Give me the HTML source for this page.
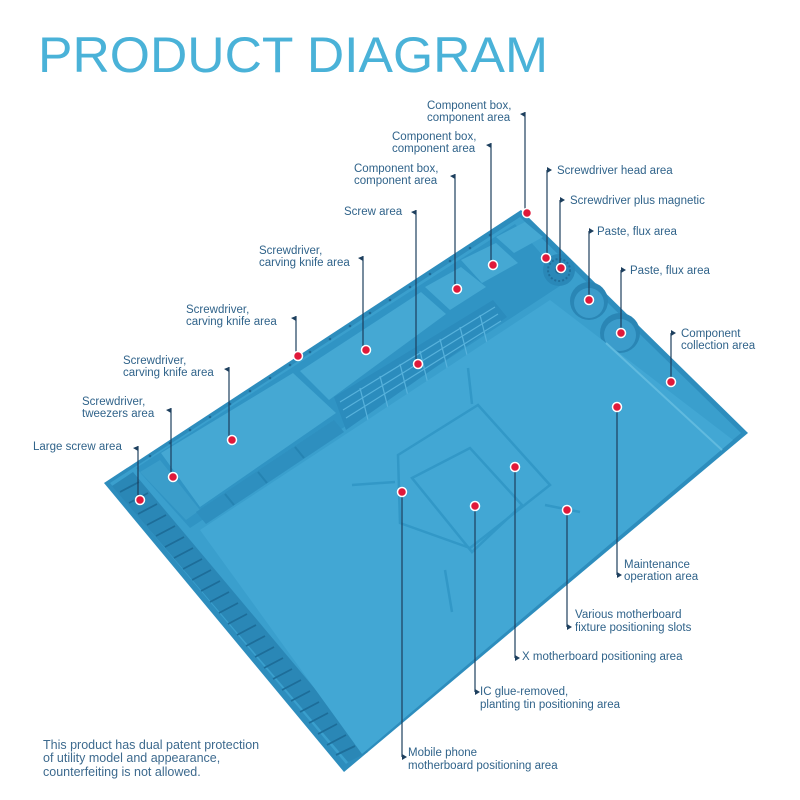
<!DOCTYPE html>
<html><head><meta charset="utf-8"><style>
html,body{margin:0;padding:0;background:#fff}
svg{display:block}
text{font-family:"Liberation Sans",sans-serif}
.l{font-size:11.5px;fill:#30638a}
</style></head><body>
<svg width="800" height="800" viewBox="0 0 800 800" xmlns="http://www.w3.org/2000/svg">
<text x="38" y="72" font-size="50" fill="#4ab2d8" textLength="510" lengthAdjust="spacingAndGlyphs">PRODUCT DIAGRAM</text>

<!-- mat outer -->
<polygon points="104,483 521,210 748,433 344,772" fill="#2d8dbd"/>
<polygon points="110,483 520,217 741,433 346,764" fill="#3a9fcd"/>
<!-- rim dots -->
<g fill="#1f6a95">
<circle cx="150" cy="456" r="1.3"/><circle cx="170" cy="443" r="1.3"/><circle cx="190" cy="430" r="1.3"/>
<circle cx="210" cy="417" r="1.3"/><circle cx="230" cy="404" r="1.3"/><circle cx="250" cy="391" r="1.3"/>
<circle cx="270" cy="378" r="1.3"/><circle cx="290" cy="365" r="1.3"/><circle cx="310" cy="352" r="1.3"/>
<circle cx="330" cy="339" r="1.3"/><circle cx="350" cy="326" r="1.3"/><circle cx="370" cy="313" r="1.3"/>
<circle cx="390" cy="300" r="1.3"/><circle cx="410" cy="287" r="1.3"/><circle cx="430" cy="274" r="1.3"/>
<circle cx="450" cy="261" r="1.3"/><circle cx="470" cy="248" r="1.3"/><circle cx="490" cy="235" r="1.3"/>
</g>
<!-- left groove strip -->
<polygon points="112,486 133,472 368,752 348,762" fill="#2a87b6"/>
<g stroke="#1d6d99" stroke-width="1.8">
<line x1="120" y1="492" x2="139" y2="482"/><line x1="129" y1="503" x2="148" y2="493"/>
<line x1="138" y1="514" x2="157" y2="504"/><line x1="147" y1="525" x2="166" y2="515"/>
<line x1="156" y1="536" x2="175" y2="526"/><line x1="165" y1="547" x2="184" y2="537"/>
<line x1="174" y1="558" x2="193" y2="548"/><line x1="183" y1="569" x2="202" y2="559"/>
<line x1="192" y1="580" x2="211" y2="570"/><line x1="201" y1="591" x2="220" y2="581"/>
<line x1="210" y1="602" x2="229" y2="592"/><line x1="219" y1="613" x2="238" y2="603"/>
<line x1="228" y1="624" x2="247" y2="614"/><line x1="237" y1="635" x2="256" y2="625"/>
<line x1="246" y1="646" x2="265" y2="636"/><line x1="255" y1="657" x2="274" y2="647"/>
<line x1="264" y1="668" x2="283" y2="658"/><line x1="273" y1="679" x2="292" y2="669"/>
<line x1="282" y1="690" x2="301" y2="680"/><line x1="291" y1="701" x2="310" y2="691"/>
<line x1="300" y1="712" x2="319" y2="702"/><line x1="309" y1="723" x2="328" y2="713"/>
<line x1="318" y1="734" x2="337" y2="724"/><line x1="327" y1="745" x2="346" y2="735"/>
<line x1="336" y1="755" x2="355" y2="746"/>
</g>
<!-- compartments zone -->
<polygon points="136,468 515,224 566,282 190,528" fill="#3094c4"/>
<polygon points="140,472 160,460 200,510 186,520" fill="#3a9dca"/>
<polygon points="161,453 293,373 336,413 200,507" fill="#45a8d3"/>
<polygon points="300,371 421,292 446,314 329,400" fill="#45a8d3"/>
<polygon points="425,287 461,267 486,287 450,310" fill="#45a8d3"/>
<polygon points="461,260 496,243 518,263 482,283" fill="#45a8d3"/>
<polygon points="496,237 525,222 543,237 514,253" fill="#45a8d3"/>
<!-- bottom small box row -->
<polygon points="196,512 334,420 344,432 206,524" fill="#2e8fbf"/>
<g stroke="#2583b2" stroke-width="2"><line x1="225" y1="494" x2="234" y2="505"/><line x1="258" y1="472" x2="267" y2="483"/><line x1="295" y1="447" x2="304" y2="458"/></g>
<!-- grids -->
<polygon points="334,397 493,300 507,317 346,430" fill="#2b8cbd"/>
<g fill="none" stroke="#57b2dc" stroke-width="1.2">
<path d="M340,402 L495,307 M343,410 L498,314 M346,418 L501,321"/>
<path d="M360,388 L368,420 M380,376 L388,408 M400,364 L408,396 M420,351 L428,384 M440,339 L448,371 M460,327 L468,359 M480,315 L488,347"/>
</g>
<!-- magnet & cups -->
<circle cx="559" cy="270" r="16" fill="#2a88b8"/><circle cx="559" cy="270" r="11" fill="none" stroke="#1f6f9c" stroke-width="2" stroke-dasharray="2 2"/><circle cx="559" cy="270" r="4" fill="#1f6f9c"/>
<circle cx="589" cy="301" r="19" fill="#2a86b5"/><circle cx="589" cy="303" r="15" fill="#3b9ccb"/>
<circle cx="620" cy="333" r="20" fill="#2a86b5"/><circle cx="620" cy="335" r="16" fill="#3b9ccb"/>
<!-- main area -->
<polygon points="200,530 550,300 733,440 362,754" fill="#42a7d4"/>
<line x1="606" y1="343" x2="722" y2="450" stroke="#60badf" stroke-width="2"/>
<!-- fixture -->
<g fill="none" stroke="#3298c7" stroke-width="2.5">
<polygon points="398,455 478,405 550,485 470,548 400,523"/>
<polygon points="412,478 470,448 522,505 472,552"/>
<path d="M352,485 L395,482 M468,368 L472,404 M545,505 L580,512 M445,570 L452,612"/>
</g>
<!-- leaders -->
<g stroke="#1d3f5e" stroke-width="1.2">
<line x1="525" y1="112" x2="525" y2="213"/><line x1="491" y1="143" x2="491" y2="265"/>
<line x1="455" y1="174" x2="455" y2="289"/><line x1="416" y1="210" x2="416" y2="364"/>
<line x1="363" y1="256" x2="363" y2="350"/><line x1="296" y1="316" x2="296" y2="356"/>
<line x1="229" y1="367" x2="229" y2="440"/><line x1="171" y1="408" x2="171" y2="477"/>
<line x1="138" y1="446" x2="138" y2="500"/>
<line x1="547" y1="170" x2="547" y2="258"/><line x1="560" y1="200" x2="560" y2="268"/>
<line x1="589" y1="231" x2="589" y2="300"/><line x1="621" y1="270" x2="621" y2="333"/>
<line x1="671" y1="333" x2="671" y2="382"/><line x1="617" y1="407" x2="617" y2="575"/>
<line x1="567" y1="510" x2="567" y2="627"/><line x1="515" y1="467" x2="515" y2="658"/>
<line x1="475" y1="506" x2="475" y2="692"/><line x1="402" y1="492" x2="402" y2="757"/>
</g>
<g fill="#1d3f5e">
<polygon points="525,112 520,114 525,117"/><polygon points="491,143 486,145 491,148"/>
<polygon points="455,174 450,176 455,179"/><polygon points="416,210 411,212 416,215"/>
<polygon points="363,256 358,258 363,261"/><polygon points="296,316 291,318 296,321"/>
<polygon points="229,367 224,369 229,372"/><polygon points="171,408 166,410 171,413"/>
<polygon points="138,446 133,448 138,451"/>
<polygon points="547,167 552,170 547,173"/><polygon points="560,197 565,200 560,203"/>
<polygon points="589,228 594,231 589,234"/><polygon points="621,267 626,270 621,273"/>
<polygon points="671,330 676,333 671,336"/><polygon points="617,572 622,575 617,578"/>
<polygon points="567,624 572,627 567,630"/><polygon points="515,655 520,658 515,661"/>
<polygon points="475,689 480,692 475,695"/><polygon points="402,754 407,757 402,760"/>
</g>
<g fill="#e0193a" stroke="#fff" stroke-width="1.5">
<circle cx="527" cy="213" r="4.5"/><circle cx="493" cy="265" r="4.5"/><circle cx="457" cy="289" r="4.5"/>
<circle cx="418" cy="364" r="4.5"/><circle cx="366" cy="350" r="4.5"/><circle cx="298" cy="356" r="4.5"/>
<circle cx="232" cy="440" r="4.5"/><circle cx="173" cy="477" r="4.5"/><circle cx="140" cy="500" r="4.5"/>
<circle cx="546" cy="258" r="4.5"/><circle cx="561" cy="268" r="4.5"/><circle cx="589" cy="300" r="4.5"/>
<circle cx="621" cy="333" r="4.5"/><circle cx="671" cy="382" r="4.5"/><circle cx="617" cy="407" r="4.5"/>
<circle cx="567" cy="510" r="4.5"/><circle cx="515" cy="467" r="4.5"/><circle cx="475" cy="506" r="4.5"/>
<circle cx="402" cy="492" r="4.5"/>
</g>
<!-- labels -->
<text class="l" x="427" y="109">Component box,</text><text class="l" x="427" y="121">component area</text>
<text class="l" x="392" y="140">Component box,</text><text class="l" x="392" y="152">component area</text>
<text class="l" x="354" y="172">Component box,</text><text class="l" x="354" y="184">component area</text>
<text class="l" x="344" y="215">Screw area</text>
<text class="l" x="259" y="254">Screwdriver,</text><text class="l" x="259" y="266">carving knife area</text>
<text class="l" x="186" y="313">Screwdriver,</text><text class="l" x="186" y="325">carving knife area</text>
<text class="l" x="123" y="364">Screwdriver,</text><text class="l" x="123" y="376">carving knife area</text>
<text class="l" x="82" y="405">Screwdriver,</text><text class="l" x="82" y="417">tweezers area</text>
<text class="l" x="33" y="450">Large screw area</text>
<text class="l" x="557" y="174">Screwdriver head area</text>
<text class="l" x="570" y="204">Screwdriver plus magnetic</text>
<text class="l" x="597" y="235">Paste, flux area</text>
<text class="l" x="630" y="274">Paste, flux area</text>
<text class="l" x="681" y="337">Component</text><text class="l" x="681" y="349">collection area</text>
<text class="l" x="624" y="568">Maintenance</text><text class="l" x="624" y="580">operation area</text>
<text class="l" x="575" y="618">Various motherboard</text><text class="l" x="575" y="631">fixture positioning slots</text>
<text class="l" x="522" y="660">X motherboard positioning area</text>
<text class="l" x="480" y="695">IC glue-removed,</text><text class="l" x="480" y="708">planting tin positioning area</text>
<text class="l" x="408" y="756">Mobile phone</text><text class="l" x="408" y="769">motherboard positioning area</text>
<text x="43" y="749" font-size="12.5" fill="#3d6a8e">This product has dual patent protection</text>
<text x="43" y="762" font-size="12.5" fill="#3d6a8e">of utility model and appearance,</text>
<text x="43" y="776" font-size="12.5" fill="#3d6a8e">counterfeiting is not allowed.</text>
</svg>
</body></html>
